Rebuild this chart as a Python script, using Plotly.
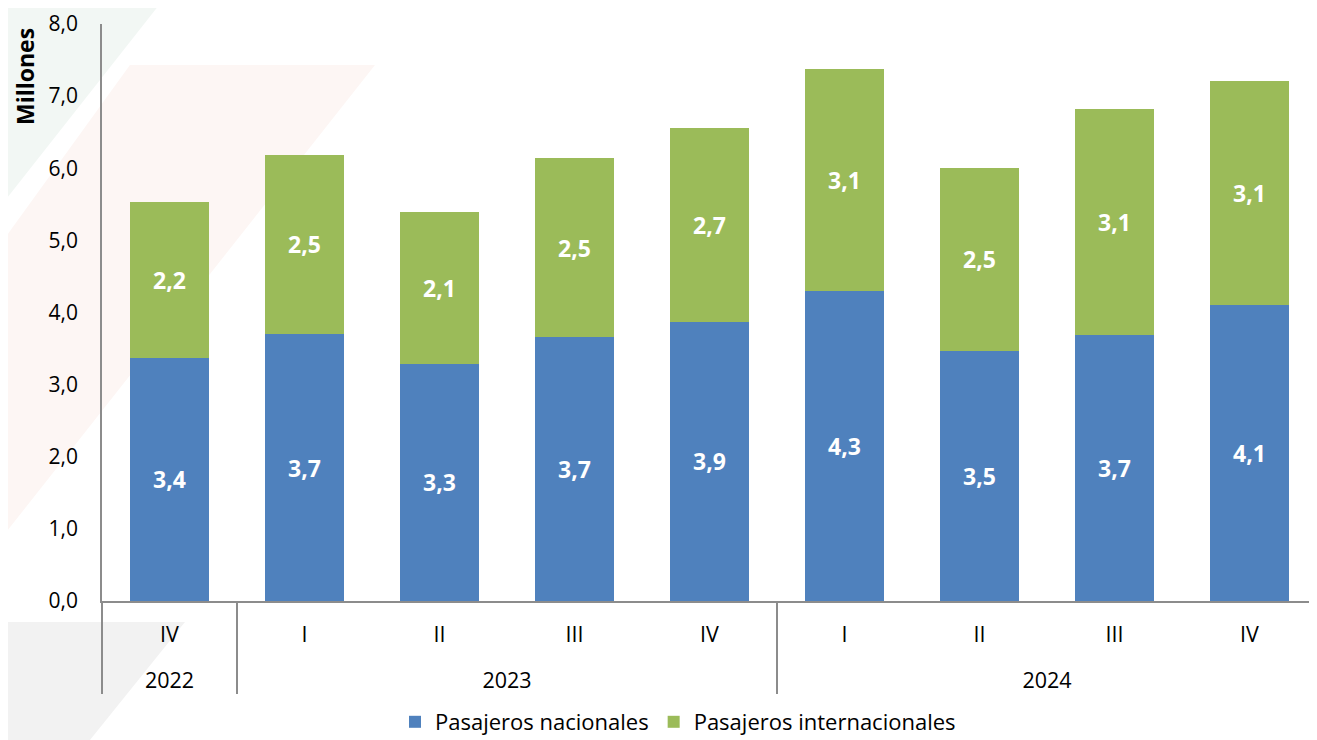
import plotly.graph_objects as go

years = ["2022", "2023", "2023", "2023", "2023", "2024", "2024", "2024", "2024"]
quarters = ["IV", "I", "II", "III", "IV", "I", "II", "III", "IV"]
nacionales = [3.37, 3.70, 3.29, 3.66, 3.87, 4.30, 3.47, 3.69, 4.11]
internacionales = [2.16, 2.49, 2.11, 2.48, 2.69, 3.08, 2.54, 3.13, 3.10]
y_ticks = [0, 1, 2, 3, 4, 5, 6, 7, 8]
y_ticklabels = ["0,0", "1,0", "2,0", "3,0", "4,0", "5,0", "6,0", "7,0", "8,0"]

FONT = "Open Sans"
OFF = 8  # page body margin
W, H = 1317 - OFF, 740 - OFF
L, T = 102 - OFF, 24 - OFF
B = H - (601 - OFF)
R = 0
PW, PH = W - L - R, H - T - B

# unique child labels (zero-width suffix) keep the original order per year
x_children = [q + "\u200b" * i for i, q in enumerate(quarters)]
x_parents = ["<br>" + y for y in years]


def px(xp, yp):
    xp -= OFF
    yp -= OFF
    return (xp - L) / PW, (H - B - yp) / PH


def poly(points):
    pts = [px(a, b) for a, b in points]
    return "M " + " L ".join(f"{a:.4f},{b:.4f}" for a, b in pts) + " Z"


def fmt(v):
    return f"{v:.1f}".replace(".", ",")


label_font = dict(color="white", size=23, family=FONT, weight="bold")

fig = go.Figure()
fig.add_trace(go.Bar(
    x=[x_parents, x_children], y=nacionales, name="Pasajeros nacionales",
    marker=dict(color="#4f81bd", line=dict(width=0)),
    text=[fmt(v) for v in nacionales], textposition="inside",
    insidetextanchor="middle", textfont=label_font,
))
fig.add_trace(go.Bar(
    x=[x_parents, x_children], y=internacionales, name="Pasajeros internacionales",
    marker=dict(color="#9bbb59", line=dict(width=0)),
    text=[fmt(v) for v in internacionales], textposition="inside",
    insidetextanchor="middle", textfont=label_font,
))

shapes = [
    dict(type="path", xref="paper", yref="paper", layer="below",
         path=poly([(0, 0), (163, 0), (0, 207)]),
         fillcolor="#f2f7f4", line=dict(width=0)),
    dict(type="path", xref="paper", yref="paper", layer="below",
         path=poly([(130, 65), (375, 65), (0, 540), (0, 245)]),
         fillcolor="#fdf6f4", line=dict(width=0)),
    dict(type="path", xref="paper", yref="paper", layer="below",
         path=poly([(0, 622), (185, 622), (90, 740), (0, 740)]),
         fillcolor="#f2f2f2", line=dict(width=0)),
]

tx, ty = px(25, 77)
lx, ly = px(678, 701)

fig.update_layout(
    barmode="stack",
    bargap=0.42,
    width=W, height=H,
    margin=dict(l=L, r=R, t=T, b=B, autoexpand=False),
    plot_bgcolor="rgba(0,0,0,0)",
    paper_bgcolor="white",
    font=dict(family=FONT, size=21, color="black"),
    showlegend=True,
    legend=dict(orientation="h", x=lx, xanchor="center", y=ly,
                yanchor="top", font=dict(size=22), traceorder="normal",
                itemwidth=30, tracegroupgap=0, bgcolor="rgba(0,0,0,0)"),
    shapes=shapes,
    annotations=[dict(text="<b>Millones</b>", xref="paper", yref="paper",
                      x=tx, y=ty, xanchor="center", yanchor="middle",
                      textangle=-90, showarrow=False,
                      font=dict(size=23, family=FONT))],
    xaxis=dict(
        type="multicategory", showline=True, linecolor="#8c8c8c",
        linewidth=1.5, ticks="", showdividers=True, dividercolor="#8c8c8c",
        dividerwidth=1.5, tickfont=dict(size=21.5), showgrid=False,
        automargin=False, ticklabelstandoff=13,
    ),
    yaxis=dict(
        range=[0, 8], tickvals=y_ticks, ticktext=y_ticklabels,
        showline=True, linecolor="#8c8c8c", linewidth=1.5, showgrid=False,
        zeroline=False, ticks="", tickfont=dict(size=21), automargin=False,
        ticklabelstandoff=18,
    ),
)

fig.write_html("out.html")
